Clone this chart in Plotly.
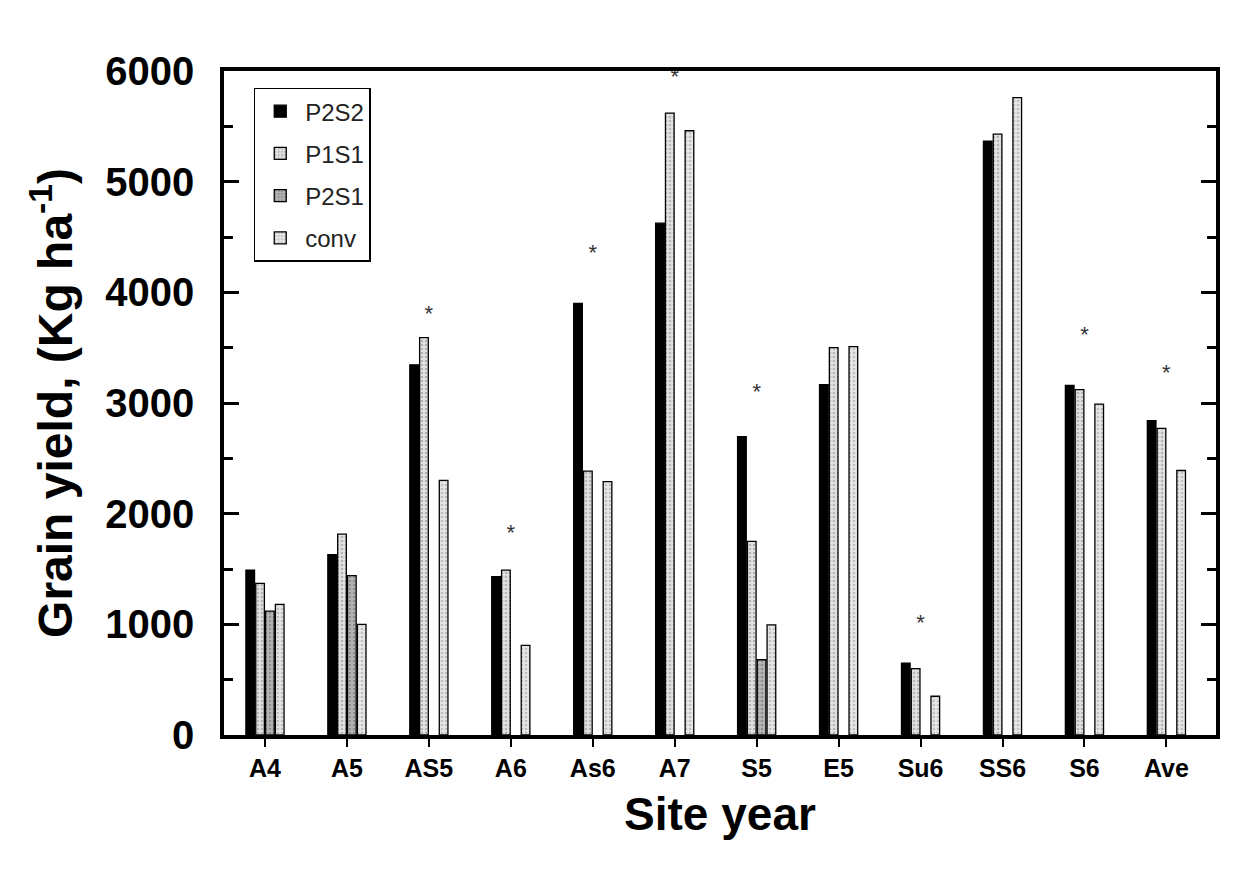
import plotly.graph_objects as go

sites = ["A4", "A5", "AS5", "A6", "As6", "A7", "S5", "E5", "Su6", "SS6", "S6", "Ave"]
p2s2 = [1490, 1630, 3345, 1430, 3900, 4625, 2695, 3165, 650, 5365, 3160, 2840]
p1s1 = [1370, 1815, 3590, 1490, 2385, 5620, 1750, 3500, 600, 5430, 3120, 2770]
p2s1 = [1120, 1440, None, None, None, None, 680, None, None, None, None, None]
conv = [1180, 1000, 2300, 810, 2290, 5460, 995, 3510, 350, 5760, 2990, 2390]

star_sites = ["AS5", "A6", "As6", "A7", "S5", "Su6", "S6", "Ave"]
star_values = [3790, 1810, 4345, 5935, 3090, 1000, 3600, 3260]

font_main = "Liberation Sans, Arial, sans-serif"

fig = go.Figure()
series = [
    ("P2S2", p2s2, "black", None),
    ("P1S1", p1s1, "#e2e2e2", "#8a8a8a"),
    ("P2S1", p2s1, "#b4b4b4", "#6a6a6a"),
    ("conv", conv, "#e6e6e6", "#9a9a9a"),
]
for name, vals, col, fg in series:
    marker = dict(color=col, line=dict(color="black", width=1.3))
    if fg is not None:
        marker["pattern"] = dict(shape=".", fgcolor=fg, size=4, solidity=0.35)
    fig.add_trace(go.Bar(
        x=sites, y=vals, name=name, marker=marker,
        legendgroup=name,
    ))

fig.add_trace(go.Scatter(
    x=star_sites, y=star_values, mode="text", text=["*"] * len(star_sites),
    textfont=dict(size=22, color="#333", family=font_main),
    showlegend=False, hoverinfo="skip", cliponaxis=False,
))

fig.update_layout(
    width=1251, height=869,
    paper_bgcolor="white", plot_bgcolor="white",
    margin=dict(l=216, r=43, t=63, b=142),
    barmode="group", bargap=0.52, bargroupgap=0.12,
    font=dict(family=font_main, color="black"),
    legend=dict(
        x=0.03, y=0.975, xanchor="left", yanchor="top",
        bordercolor="black", borderwidth=1.5, bgcolor="white",
        font=dict(size=24, family=font_main, color="#222"),
        tracegroupgap=8, itemwidth=40,
    ),
    showlegend=True,
)

fig.update_xaxes(
    showline=True, linecolor="black", linewidth=3.5, mirror=True,
    ticks="outside", ticklen=8, tickwidth=2, tickcolor="black",
    tickfont=dict(size=25, family=font_main, weight="bold"),
    title=dict(text="Site year", font=dict(size=46, family=font_main, weight="bold"), standoff=18),
    showgrid=False,
)
fig.update_yaxes(
    range=[0, 6000], dtick=1000,
    showline=True, linecolor="black", linewidth=3.5, mirror="ticks",
    ticks="inside", ticklen=15, tickwidth=3, tickcolor="black",
    minor=dict(ticks="inside", ticklen=9, tickwidth=2.5, dtick=500, tickcolor="black", showgrid=False),
    tickfont=dict(size=40, family=font_main, weight="bold"),
    ticklabelstandoff=18,
    title=dict(text="Grain yield, (Kg ha<sup>-1</sup>)", font=dict(size=48, family=font_main, weight="bold"), standoff=18),
    showgrid=False, zeroline=False,
)

fig.write_html("out.html")
